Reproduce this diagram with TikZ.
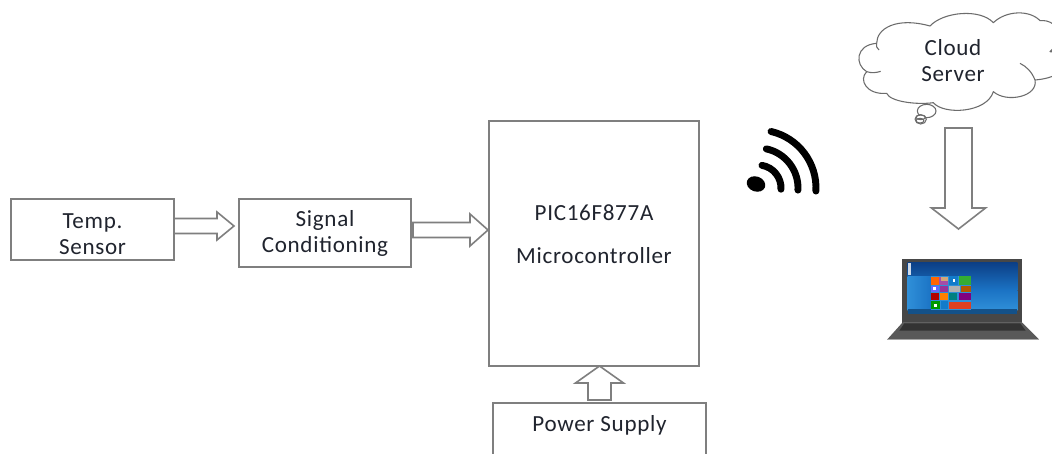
\documentclass[tikz,border=0pt]{standalone}
\usepackage{fontspec}
\setmainfont{Carlito}
\usetikzlibrary{calc}
\def\u{0.75pt}
\definecolor{linegray}{HTML}{7F7F7F}
\definecolor{inkc}{HTML}{20242E}
\definecolor{scrdark}{HTML}{0C3F86}
\definecolor{scrmid}{HTML}{1B73C4}
\definecolor{scrlight}{HTML}{2F8FD8}
\tikzset{
  box/.style={draw=linegray,line width=1.3pt,fill=white,inner sep=0pt,outer sep=0pt,minimum width=#1},
  txt/.style={text=inkc,font=\fontsize{17.3pt}{19.6pt}\selectfont\addfontfeatures{LetterSpace=3},align=center,inner sep=0pt},
  blk/.style={draw=linegray,line width=1.2pt,fill=white,line join=miter},
  wave/.style={line width=5.2pt,line cap=round,black},
  cloudline/.style={draw=linegray!85!black,line width=0.8pt,line join=round}
}
\newcommand\hblock[5]{\draw[blk] ($(#1)+(0,-#3)$) -- ($(#2)+(-#5,-#3)$) -- ($(#2)+(-#5,-#4)$) -- (#2) -- ($(#2)+(-#5,#4)$) -- ($(#2)+(-#5,#3)$) -- ($(#1)+(0,#3)$) -- cycle;}
\newcommand\vblock[5]{\draw[blk] ($(#1)+(-#3,0)$) -- ($(#2)+(-#3,#5)$) -- ($(#2)+(-#4,#5)$) -- (#2) -- ($(#2)+(#4,#5)$) -- ($(#2)+(#3,#5)$) -- ($(#1)+(#3,0)$) -- cycle;}
\begin{document}
\begin{tikzpicture}[x=0.75pt,y=-0.75pt]
\useasboundingbox (0,0) rectangle (1052,453);
\clip (0,0) rectangle (1052,453);
\fill[white] (0,0) rectangle (1052,453);

% boxes
\node[box=163*\u,minimum height=61*\u,label={[txt,yshift=-3.2pt]center:Temp.\\Sensor}] (temp) at (92.5,229.5) {};
\node[box=172*\u,minimum height=68*\u,label={[txt,yshift=-0.6pt]center:Signal\\Conditioning}] (sig) at (325,233) {};
\node[box=210*\u,minimum height=245*\u,label={[txt,yshift=7.2pt,font=\fontsize{17.3pt}{32.2pt}\selectfont\addfontfeatures{LetterSpace=3}]center:PIC16F877A\\Microcontroller}] (mcu) at (594,243.5) {};
\node[box=213*\u,minimum height=100*\u,label={[txt,yshift=21pt]center:Power Supply}] (psu) at (599.5,453) {};

% block arrows
\coordinate (a1s) at ($(temp.east)+(0,-3.5)$);
\coordinate (a1t) at ($(sig.west)+(-5,-7)$);
\hblock{a1s}{a1t}{7.5}{14}{17}
\coordinate (a2s) at ($(sig.east)+(2,-3)$);
\coordinate (a2t) at ($(mcu.west)+(-1,-13.5)$);
\hblock{a2s}{a2t}{7.5}{16}{18}
\coordinate (a3s) at (599.5,400);
\coordinate (a3t) at (599.5,366);
\vblock{a3s}{a3t}{11.5}{24}{17}

% wifi symbol
\fill[black,rotate around={-20:(756,184)}] (756,184) ellipse (9.5 and 7.5);
\draw[wave] (758,188) ++(3:23) arc[start angle=3,end angle=-80,radius=23];
\draw[wave] (758,188) ++(3:40) arc[start angle=3,end angle=-78,radius=40];
\draw[wave] (758,188) ++(3:58) arc[start angle=3,end angle=-77,radius=58];

% cloud
\begin{scope}[shift={(730,0)},x=0.25pt,y=-0.25pt]
\draw[cloudline,fill=white]
  (440,130) .. controls (440,85) and (500,50) .. (600,78)
  .. controls (640,35) and (750,25) .. (790,68)
  .. controls (830,30) and (900,30) .. (930,62)
  .. controls (990,55) and (1020,140) .. (960,155)
  .. controls (1030,160) and (1030,230) .. (915,240)
  .. controls (925,290) and (830,310) .. (790,275)
  .. controls (770,340) and (640,345) .. (610,308)
  .. controls (560,315) and (480,305) .. (470,280)
  .. controls (410,285) and (385,240) .. (410,215)
  .. controls (375,195) and (375,135) .. (440,130) -- cycle;
\draw[cloudline] (440,130) .. controls (438,138) and (440,145) .. (447,150);
\draw[cloudline] (410,215) .. controls (425,220) and (440,218) .. (452,214);
\draw[cloudline] (915,240) .. controls (905,215) and (890,200) .. (870,190);
\draw[cloudline] (960,155) -- (967,148);
\draw[cloudline,fill=white] (590,333) ellipse (28 and 20);
\draw[cloudline,fill=white] (572,358) ellipse (17 and 14);
\draw[cloudline] (572,352) ellipse (14 and 7);
\draw[cloudline] (570,362) ellipse (12 and 7);
\end{scope}
\node[txt] (cloud) at (953,60.5) {Cloud\\Server};

% laptop
\begin{scope}[shift={(870,240)},x=0.25pt,y=-0.25pt]
\fill[black!72] (97,58) rectangle (457,248);
\shade[top color=scrdark,bottom color=scrmid] (113,68) rectangle (442,150);
\shade[top color=scrmid,bottom color=scrlight] (113,150) rectangle (442,210);
\shade[left color=scrlight,right color=scrmid] (113,108) rectangle (185,208);
\fill[scrmid!70!black] (113,208) rectangle (442,222);
\fill[white,opacity=.8] (115,70) rectangle (124,90);
\fill[white,opacity=.8] (115,90) rectangle (124,104);
% start tiles
\fill[scrlight] (182,108) rectangle (304,210);
\fill[orange!80!red] (183,110) rectangle (206,134);
\fill[violet!70] (208,110) rectangle (234,134);
\fill[brown!70] (212,110) rectangle (234,122);
\fill[cyan!60!blue] (238,108) rectangle (264,134);
\fill[green!60!black!80] (266,108) rectangle (303,134);
\fill[white] (250,118) rectangle (256,126);
\fill[blue!60] (183,137) rectangle (206,156);
\fill[white] (190,142) rectangle (198,150);
\fill[violet!80] (210,137) rectangle (234,156);
\fill[gray!60] (238,137) rectangle (270,156);
\fill[orange!70!black] (272,137) rectangle (302,156);
\fill[red!70!black] (183,159) rectangle (206,180);
\fill[orange] (210,159) rectangle (234,180);
\fill[teal] (238,159) rectangle (262,180);
\fill[violet] (266,159) rectangle (302,180);
\fill[green!60!black] (183,184) rectangle (210,208);
\fill[white] (192,192) rectangle (200,202);
\fill[cyan!60!blue] (214,184) rectangle (234,208);
\fill[red!50!brown] (238,186) rectangle (302,206);
\fill[black!60] (100,245) rectangle (455,250);
\fill[black!65] (97,248) -- (457,248) -- (507,298) -- (52,298) -- cycle;
\fill[black!80] (103,250) -- (451,250) -- (467,272) -- (88,272) -- cycle;
\fill[black!35] (52,297) rectangle (507,300);
\end{scope}
\coordinate (laptop) at (958.5,229);
\coordinate (a4s) at (958.5,128);
\vblock{a4s}{laptop}{13.5}{27}{-21}
\end{tikzpicture}
\end{document}
